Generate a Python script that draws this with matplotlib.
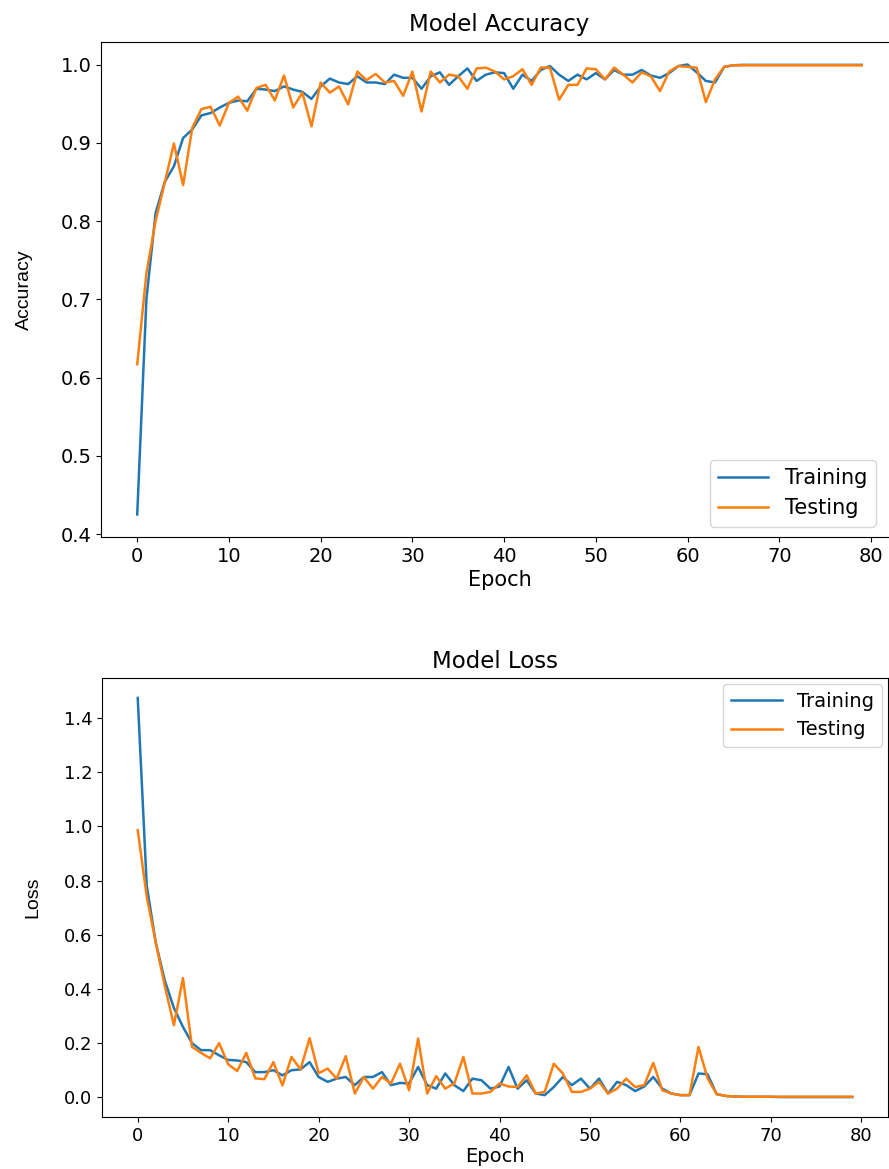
import numpy as np
import matplotlib
matplotlib.use('Agg')
import matplotlib.pyplot as plt

# per-epoch history
epochs = np.arange(80)

train_acc = [0.425, 0.700, 0.810, 0.850, 0.870, 0.906, 0.917, 0.935, 0.938, 0.945,
             0.951, 0.954, 0.953, 0.969, 0.968, 0.966, 0.972, 0.968, 0.965, 0.956,
             0.972, 0.982, 0.977, 0.975, 0.985, 0.977, 0.977, 0.975, 0.987, 0.983,
             0.983, 0.969, 0.985, 0.990, 0.974, 0.985, 0.995, 0.979, 0.987, 0.990,
             0.989, 0.969, 0.987, 0.979, 0.993, 0.998, 0.987, 0.979, 0.987, 0.981,
             0.989, 0.981, 0.993, 0.987, 0.987, 0.993, 0.986, 0.983, 0.989, 0.998,
             1.000, 0.990, 0.979, 0.977, 0.997, 0.999, 0.9995, 0.9995, 0.9995, 0.9995,
             0.9995, 0.9995, 0.9995, 0.9995, 0.9995, 0.9995, 0.9995, 0.9995, 0.9995, 0.9995]

test_acc = [0.617, 0.733, 0.800, 0.849, 0.899, 0.846, 0.919, 0.943, 0.946, 0.922,
            0.951, 0.959, 0.941, 0.970, 0.974, 0.954, 0.986, 0.945, 0.964, 0.921,
            0.977, 0.964, 0.972, 0.949, 0.991, 0.980, 0.988, 0.977, 0.979, 0.960,
            0.991, 0.940, 0.991, 0.977, 0.987, 0.985, 0.969, 0.995, 0.996, 0.991,
            0.981, 0.985, 0.994, 0.974, 0.996, 0.996, 0.955, 0.974, 0.974, 0.995,
            0.994, 0.981, 0.996, 0.987, 0.977, 0.990, 0.985, 0.966, 0.991, 0.998,
            0.997, 0.996, 0.952, 0.981, 0.997, 0.999, 0.999, 0.999, 0.999, 0.999,
            0.999, 0.999, 0.999, 0.999, 0.999, 0.999, 0.999, 0.999, 0.999, 0.999]

train_loss = [1.474, 0.780, 0.570, 0.430, 0.330, 0.260, 0.200, 0.174, 0.174, 0.155,
              0.138, 0.136, 0.130, 0.093, 0.093, 0.100, 0.081, 0.100, 0.103, 0.130,
              0.075, 0.057, 0.069, 0.075, 0.045, 0.075, 0.075, 0.093, 0.045, 0.053,
              0.051, 0.112, 0.045, 0.032, 0.088, 0.045, 0.023, 0.069, 0.063, 0.032,
              0.040, 0.112, 0.032, 0.063, 0.014, 0.008, 0.038, 0.075, 0.045, 0.069,
              0.032, 0.069, 0.014, 0.057, 0.045, 0.023, 0.040, 0.075, 0.032, 0.014,
              0.008, 0.008, 0.088, 0.085, 0.012, 0.005, 0.003, 0.002, 0.002, 0.002,
              0.002, 0.001, 0.001, 0.001, 0.001, 0.001, 0.001, 0.001, 0.001, 0.001]

test_loss = [0.986, 0.740, 0.570, 0.410, 0.266, 0.440, 0.186, 0.164, 0.144, 0.200,
             0.122, 0.097, 0.164, 0.070, 0.067, 0.130, 0.044, 0.149, 0.103, 0.218,
             0.089, 0.106, 0.069, 0.152, 0.014, 0.075, 0.032, 0.075, 0.051, 0.124,
             0.026, 0.217, 0.014, 0.078, 0.032, 0.051, 0.149, 0.014, 0.014, 0.020,
             0.051, 0.040, 0.038, 0.081, 0.014, 0.020, 0.124, 0.088, 0.020, 0.020,
             0.032, 0.057, 0.014, 0.032, 0.069, 0.038, 0.045, 0.127, 0.026, 0.014,
             0.008, 0.008, 0.186, 0.070, 0.012, 0.005, 0.003, 0.002, 0.002, 0.002,
             0.002, 0.002, 0.002, 0.002, 0.002, 0.002, 0.002, 0.002, 0.002, 0.002]

legend_labels = ['Training', 'Testing']

W, H = 889, 1169
fig = plt.figure(figsize=(W / 100, H / 100), dpi=100)

def px_axes(left, top, right, bottom):
    return fig.add_axes([left / W, 1 - bottom / H, (right - left) / W, (bottom - top) / H])

# accuracy
ax1 = px_axes(101, 42, 898, 537)
ax1.plot(epochs, train_acc, color='#1f77b4', lw=1.8)
ax1.plot(epochs, test_acc, color='#ff7f0e', lw=1.8)
ax1.set_title('Model Accuracy', fontsize=16.5, pad=8)
ax1.set_ylabel('Accuracy', fontsize=14, family='Liberation Sans', labelpad=20)
ax1.set_xlabel('Epoch', fontsize=15, labelpad=3)
ax1.set_xticks(range(0, 81, 10))
ax1.tick_params(labelsize=14)
ax1.legend(legend_labels, loc='lower right', fontsize=15, handlelength=2.4,
           bbox_to_anchor=(0.985, 0.0))

# loss
ax2 = px_axes(102, 678, 888, 1117)
ax2.plot(epochs, train_loss, color='#1f77b4', lw=1.8)
ax2.plot(epochs, test_loss, color='#ff7f0e', lw=1.8)
ax2.set_title('Model Loss', fontsize=16.5, pad=7)
ax2.set_ylabel('Loss', fontsize=14, family='Liberation Sans', labelpad=16)
ax2.set_xlabel('Epoch', fontsize=14, labelpad=2)
ax2.set_xticks(range(0, 81, 10))
ax2.tick_params(labelsize=13)
ax2.legend(legend_labels, loc='upper right', fontsize=14, handlelength=2.6,
           borderaxespad=0.3)

fig.savefig('out.png', dpi=100)
